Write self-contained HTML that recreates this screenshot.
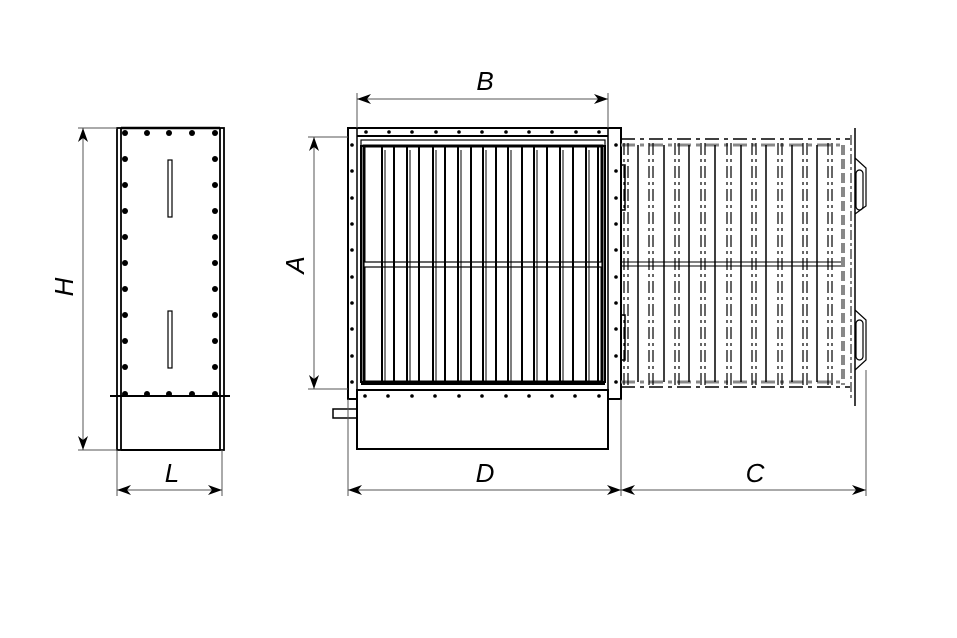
<!DOCTYPE html>
<html><head><meta charset="utf-8"><style>
html,body{margin:0;padding:0;background:#fff;}
svg{display:block}
text{font-family:"Liberation Sans",sans-serif;font-style:italic;font-size:26px;fill:#000;}
</style></head><body>
<svg width="957" height="638" viewBox="0 0 957 638" xmlns="http://www.w3.org/2000/svg">
<defs>
<path id="ar" d="M0,0 L14,-5 L10,0 L14,5 Z" fill="#000"/>
<circle id="b" r="1.8" fill="#000"/>
<circle id="bb" r="3" fill="#000"/>
<g id="dash">
 <line x1="0" y1="143" x2="0" y2="386" stroke="#000" stroke-width="1.2" stroke-dasharray="12,4,3,4"/>
 <line x1="4" y1="143" x2="4" y2="386" stroke="#000" stroke-width="1.2" stroke-dasharray="12,4,3,4"/>
</g>
</defs>
<!-- LEFT VIEW -->
<g stroke="#000" fill="none">
 <rect x="117" y="128" width="4" height="322" stroke-width="1.8"/>
 <rect x="220" y="128" width="4" height="322" stroke-width="1.8"/>
 <line x1="121" y1="128" x2="220" y2="128" stroke-width="2.5"/>
 <line x1="110" y1="396" x2="230" y2="396" stroke-width="2"/>
 <line x1="121" y1="450" x2="220" y2="450" stroke-width="2"/>
 <rect x="168" y="160" width="4" height="57" stroke-width="1.2"/>
 <rect x="168" y="311" width="4" height="57" stroke-width="1.2"/>
</g>
<g>
 <use href="#bb" x="125" y="133"/><use href="#bb" x="147" y="133"/><use href="#bb" x="169" y="133"/><use href="#bb" x="192" y="133"/><use href="#bb" x="215" y="133"/>
 <use href="#bb" x="125" y="394"/><use href="#bb" x="147" y="394"/><use href="#bb" x="169" y="394"/><use href="#bb" x="192" y="394"/><use href="#bb" x="215" y="394"/>
 <use href="#bb" x="125" y="159"/><use href="#bb" x="215" y="159"/>
 <use href="#bb" x="125" y="185"/><use href="#bb" x="215" y="185"/>
 <use href="#bb" x="125" y="211"/><use href="#bb" x="215" y="211"/>
 <use href="#bb" x="125" y="237"/><use href="#bb" x="215" y="237"/>
 <use href="#bb" x="125" y="263"/><use href="#bb" x="215" y="263"/>
 <use href="#bb" x="125" y="289"/><use href="#bb" x="215" y="289"/>
 <use href="#bb" x="125" y="315"/><use href="#bb" x="215" y="315"/>
 <use href="#bb" x="125" y="341"/><use href="#bb" x="215" y="341"/>
 <use href="#bb" x="125" y="367"/><use href="#bb" x="215" y="367"/>
</g>
<!-- dims left -->
<g stroke="#555" stroke-width="1">
 <line x1="78" y1="128" x2="117" y2="128"/><line x1="78" y1="450" x2="117" y2="450"/>
 <line x1="83" y1="128" x2="83" y2="450"/>
 <line x1="117" y1="450" x2="117" y2="496"/><line x1="222" y1="450" x2="222" y2="496"/>
 <line x1="117" y1="490" x2="222" y2="490"/>
</g>
<use href="#ar" transform="translate(83,128) rotate(90)"/>
<use href="#ar" transform="translate(83,450) rotate(-90)"/>
<use href="#ar" transform="translate(117,490)"/>
<use href="#ar" transform="translate(222,490) rotate(180)"/>
<text transform="translate(73,287) rotate(-90)" text-anchor="middle">H</text>
<text x="172" y="482" text-anchor="middle">L</text>

<!-- MAIN VIEW -->
<g stroke="#000" fill="none">
 <rect x="348" y="128" width="273" height="271" stroke-width="2"/>
 <line x1="357" y1="128" x2="357" y2="399" stroke-width="1.5"/>
 <line x1="608" y1="128" x2="608" y2="399" stroke-width="1.5"/>
 <line x1="357" y1="136" x2="608" y2="136" stroke-width="2"/>
 <rect x="357" y="390" width="251" height="59" stroke-width="2" fill="#fff"/>
 <rect x="333" y="409" width="24" height="9" stroke-width="1.5"/>
 <rect x="361" y="140" width="244" height="6" stroke-width="1.2"/>
 <rect x="361" y="146" width="244" height="236" stroke-width="2"/>
 <rect x="364" y="146" width="238" height="236" stroke-width="3"/>
 <rect x="364" y="262" width="238" height="5" stroke-width="1.2" fill="#fff"/>
 <line x1="361" y1="384" x2="605" y2="384" stroke-width="2"/>
 <path d="M621,165 h4 v45 h-4 M621,315 h4 v45 h-4" stroke-width="1.5"/>
</g>
<g stroke="#000" stroke-width="2">
 <line x1="382" y1="146" x2="382" y2="382"/><line x1="394" y1="146" x2="394" y2="382"/>
 <line x1="407" y1="146" x2="407" y2="382"/><line x1="419" y1="146" x2="419" y2="382"/>
 <line x1="433" y1="146" x2="433" y2="382"/><line x1="445" y1="146" x2="445" y2="382"/>
 <line x1="458" y1="146" x2="458" y2="382"/><line x1="471" y1="146" x2="471" y2="382"/>
 <line x1="483" y1="146" x2="483" y2="382"/><line x1="496" y1="146" x2="496" y2="382"/>
 <line x1="508" y1="146" x2="508" y2="382"/><line x1="522" y1="146" x2="522" y2="382"/>
 <line x1="534" y1="146" x2="534" y2="382"/><line x1="547" y1="146" x2="547" y2="382"/>
 <line x1="560" y1="146" x2="560" y2="382"/><line x1="573" y1="146" x2="573" y2="382"/>
 <line x1="586" y1="146" x2="586" y2="382"/><line x1="598" y1="146" x2="598" y2="382"/>
</g>
<g stroke="#000" stroke-width="1">
 <line x1="385" y1="150" x2="385" y2="382"/><line x1="410" y1="150" x2="410" y2="382"/>
 <line x1="436" y1="150" x2="436" y2="382"/><line x1="461" y1="150" x2="461" y2="382"/>
 <line x1="486" y1="150" x2="486" y2="382"/><line x1="511" y1="150" x2="511" y2="382"/>
 <line x1="537" y1="150" x2="537" y2="382"/><line x1="563" y1="150" x2="563" y2="382"/>
 <line x1="589" y1="150" x2="589" y2="382"/>
</g>
<g>
 <use href="#b" x="366" y="132"/><use href="#b" x="389" y="132"/><use href="#b" x="412" y="132"/><use href="#b" x="436" y="132"/><use href="#b" x="459" y="132"/><use href="#b" x="482" y="132"/><use href="#b" x="506" y="132"/><use href="#b" x="529" y="132"/><use href="#b" x="552" y="132"/><use href="#b" x="576" y="132"/><use href="#b" x="599" y="132"/>
 <use href="#b" x="365" y="396"/><use href="#b" x="388" y="396"/><use href="#b" x="412" y="396"/><use href="#b" x="435" y="396"/><use href="#b" x="459" y="396"/><use href="#b" x="482" y="396"/><use href="#b" x="506" y="396"/><use href="#b" x="529" y="396"/><use href="#b" x="552" y="396"/><use href="#b" x="575" y="396"/><use href="#b" x="599" y="396"/>
 <use href="#b" x="352" y="145"/><use href="#b" x="616" y="145"/>
 <use href="#b" x="352" y="171"/><use href="#b" x="616" y="171"/>
 <use href="#b" x="352" y="198"/><use href="#b" x="616" y="198"/>
 <use href="#b" x="352" y="224"/><use href="#b" x="616" y="224"/>
 <use href="#b" x="352" y="250"/><use href="#b" x="616" y="250"/>
 <use href="#b" x="352" y="277"/><use href="#b" x="616" y="277"/>
 <use href="#b" x="352" y="303"/><use href="#b" x="616" y="303"/>
 <use href="#b" x="352" y="329"/><use href="#b" x="616" y="329"/>
 <use href="#b" x="352" y="356"/><use href="#b" x="616" y="356"/>
 <use href="#b" x="352" y="382"/><use href="#b" x="616" y="382"/>
</g>

<!-- extracted dashed part -->
<g stroke="#000" fill="none" stroke-width="1.5">
 <line x1="621" y1="139" x2="850" y2="139" stroke-dasharray="14,5,4,5"/>
 <line x1="621" y1="387" x2="850" y2="387" stroke-dasharray="14,5,4,5"/>
 <line x1="621" y1="145" x2="845" y2="145" stroke="#888" stroke-width="3" stroke-dasharray="14,5,4,5"/>
 <line x1="621" y1="382" x2="845" y2="382" stroke="#888" stroke-width="3" stroke-dasharray="14,5,4,5"/>
 <line x1="621" y1="262" x2="845" y2="262" stroke-width="1"/>
 <line x1="621" y1="266" x2="845" y2="266" stroke-width="1"/>
 <line x1="843" y1="145" x2="843" y2="385" stroke="#888" stroke-width="4" stroke-dasharray="10,4"/>
 <line x1="851" y1="135" x2="851" y2="400" stroke-width="1" stroke-dasharray="10,3,3,3"/>
 <line x1="855" y1="128" x2="855" y2="406" stroke-width="1.5"/>
 <path d="M855,158 L866,168 V206 L855,214 M855,310 L866,320 V360 L855,370" stroke-width="1.2"/>
 <rect x="856" y="170" width="7" height="40" rx="3.5" stroke-width="1.2"/>
 <rect x="856" y="320" width="7" height="40" rx="3.5" stroke-width="1.2"/>
</g>
<g stroke="#000" stroke-width="1.5">
 <line x1="638" y1="145" x2="638" y2="382"/><line x1="664" y1="145" x2="664" y2="382"/>
 <line x1="689" y1="145" x2="689" y2="382"/><line x1="715" y1="145" x2="715" y2="382"/>
 <line x1="741" y1="145" x2="741" y2="382"/><line x1="766" y1="145" x2="766" y2="382"/>
 <line x1="792" y1="145" x2="792" y2="382"/><line x1="817" y1="145" x2="817" y2="382"/>
</g>
<use href="#dash" x="624"/><use href="#dash" x="649"/><use href="#dash" x="675"/><use href="#dash" x="701"/>
<use href="#dash" x="727"/><use href="#dash" x="752"/><use href="#dash" x="778"/><use href="#dash" x="803"/><use href="#dash" x="828"/>

<!-- main dims -->
<g stroke="#555" stroke-width="1">
 <line x1="357" y1="93" x2="357" y2="128"/><line x1="608" y1="93" x2="608" y2="128"/>
 <line x1="357" y1="99" x2="608" y2="99"/>
 <line x1="308" y1="137" x2="348" y2="137"/><line x1="308" y1="389" x2="348" y2="389"/>
 <line x1="314" y1="137" x2="314" y2="389"/>
 <line x1="348" y1="399" x2="348" y2="496"/><line x1="621" y1="399" x2="621" y2="496"/>
 <line x1="866" y1="370" x2="866" y2="496"/>
 <line x1="348" y1="490" x2="866" y2="490"/>
</g>
<use href="#ar" transform="translate(357,99)"/>
<use href="#ar" transform="translate(608,99) rotate(180)"/>
<use href="#ar" transform="translate(314,137) rotate(90)"/>
<use href="#ar" transform="translate(314,389) rotate(-90)"/>
<use href="#ar" transform="translate(348,490)"/>
<use href="#ar" transform="translate(621,490) rotate(180)"/>
<use href="#ar" transform="translate(621,490)"/>
<use href="#ar" transform="translate(866,490) rotate(180)"/>
<text x="485" y="90" text-anchor="middle">B</text>
<text transform="translate(304,265) rotate(-90)" text-anchor="middle">A</text>
<text x="485" y="482" text-anchor="middle">D</text>
<text x="755" y="482" text-anchor="middle">C</text>
</svg>
</body></html>
